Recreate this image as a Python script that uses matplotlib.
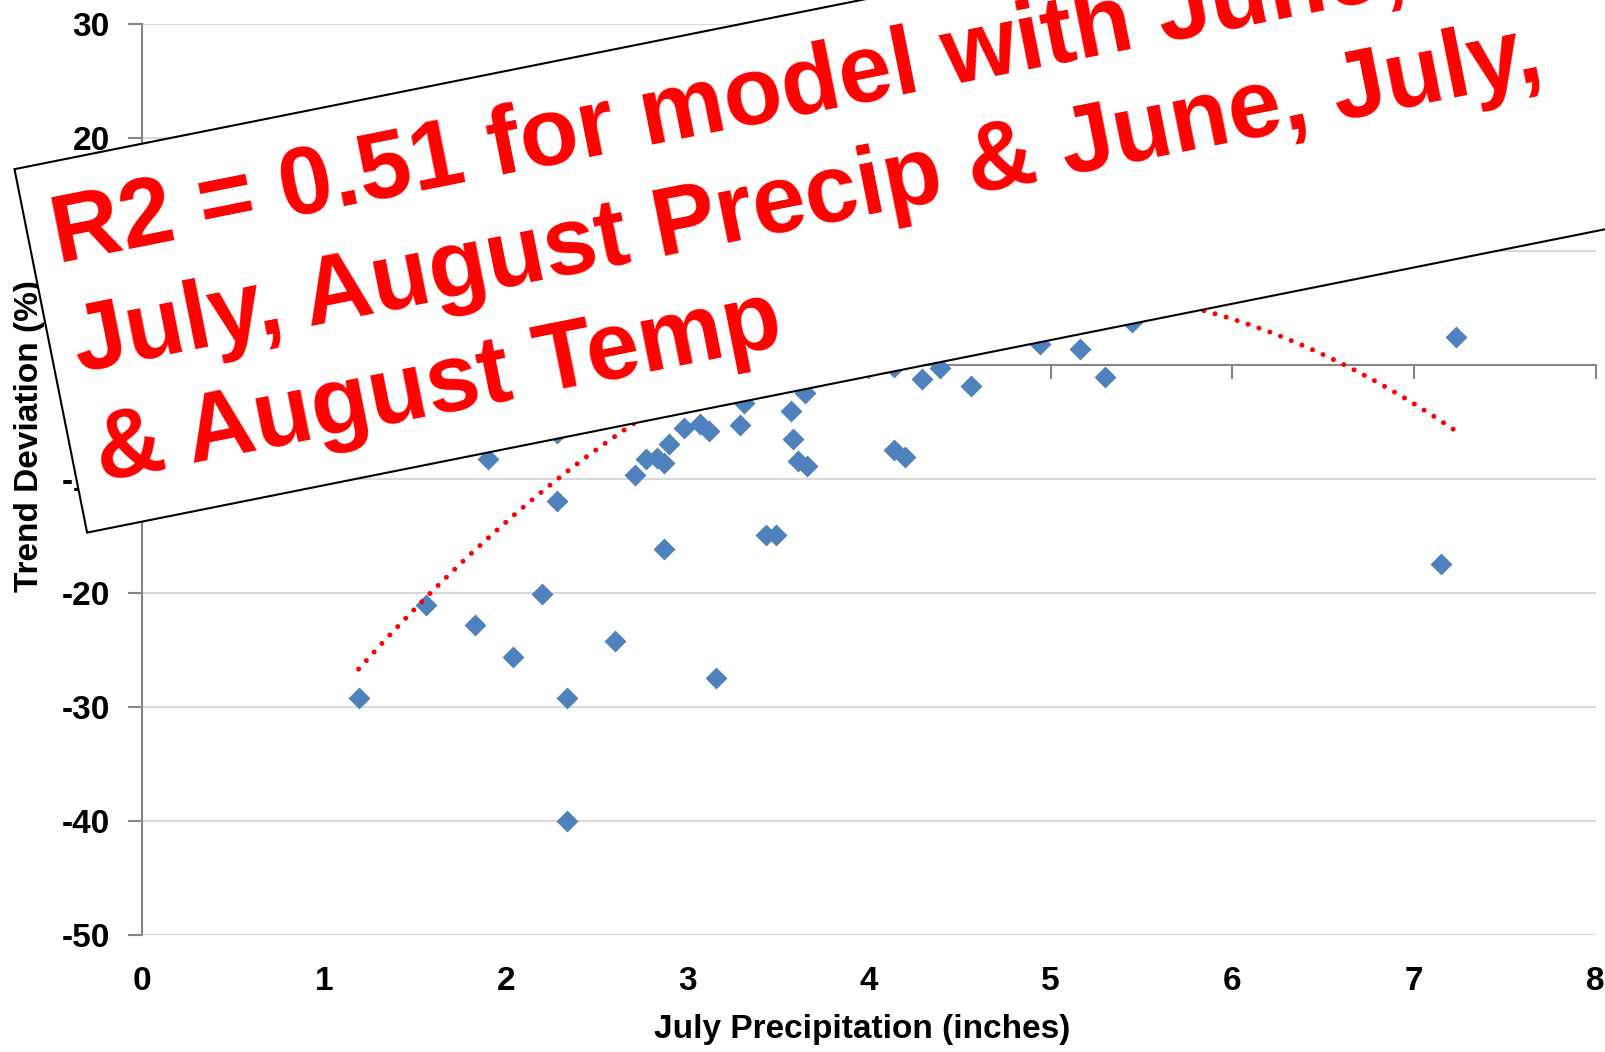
import numpy as np
import matplotlib
matplotlib.use("Agg")
import matplotlib.pyplot as plt
from matplotlib.patches import Rectangle
from matplotlib.transforms import IdentityTransform

plt.rcParams['font.family'] = ['Liberation Sans', 'DejaVu Sans']
plt.rcParams['font.weight'] = 'bold'
plt.rcParams['axes.unicode_minus'] = False

# July precipitation (inches) vs trend deviation (%)
precip = [1.19, 1.56, 1.83, 1.90, 2.04, 2.20, 2.28, 2.28, 2.34, 2.34,
          2.60, 2.71, 2.77, 2.83, 2.87, 2.87, 2.90, 2.98, 3.07, 3.12,
          3.16, 3.29, 3.31, 3.43, 3.49, 3.57, 3.58, 3.61, 3.65, 3.66,
          4.14, 4.20, 4.14, 4.29, 4.39, 4.56, 4.94, 5.16, 5.30, 5.45,
          7.15, 7.23]
deviation = [-29.2, -21.0, -22.8, -8.2, -25.6, -20.1, -11.9, -5.9, -29.2, -40.0,
             -24.2, -9.6, -8.2, -8.1, -8.6, -16.1, -6.9, -5.5, -5.1, -5.8,
             -27.4, -5.2, -3.3, -14.9, -14.9, -4.0, -6.5, -8.4, -2.4, -8.8,
             -7.4, -8.0, -0.1, -1.2, -0.2, -1.8, 1.9, 1.4, -1.0, 3.8,
             -17.4, 2.5]

# polynomial trendline (order 2)
trend_coef = [-2.38, 23.50, -51.25]

note_lines = ["R2 = 0.51 for model with June,",
              "July, August Precip & June, July,",
              "& August Temp"]

xticks = [0, 1, 2, 3, 4, 5, 6, 7, 8]
yticks = [-50, -40, -30, -20, -10, 0, 10, 20, 30]

fig = plt.figure(figsize=(16.06, 10.52), dpi=100)
ax = fig.add_axes([0.08867, 0.11112, 0.90492, 0.86645])

ax.scatter(precip, deviation, marker='D', s=125, color='#4F81BD', linewidths=0, zorder=3)

xs = np.linspace(min(precip), max(precip), 200)
ax.plot(xs, np.polyval(trend_coef, xs), color='#FF0000', lw=3.6,
        linestyle=(0, (0.01, 2.3)), dash_capstyle='round', zorder=4)

ax.set_xlim(0, 8)
ax.set_ylim(-50, 30)
ax.set_yticks(yticks)
ax.set_xticks(xticks)

gray = '#868686'
ax.yaxis.grid(True, color='#D9D9D9', lw=1.5)
ax.set_axisbelow(True)
for s in ['top', 'right']:
    ax.spines[s].set_visible(False)
ax.spines['left'].set_color(gray)
ax.spines['left'].set_linewidth(1.5)
ax.spines['bottom'].set_position(('data', 0))
ax.spines['bottom'].set_color(gray)
ax.spines['bottom'].set_linewidth(1.5)

ax.tick_params(axis='y', length=10, width=1.5, color=gray, pad=13.5, labelsize=24)
ax.tick_params(axis='x', length=10, width=1.5, color=gray, labelbottom=False)

sec = ax.secondary_xaxis('bottom')
sec.set_xticks(xticks)
sec.tick_params(length=0, pad=22, labelsize=24)
sec.spines['bottom'].set_visible(False)

ax.set_ylabel('Trend Deviation (%)', fontsize=24, fontweight='bold')
ax.yaxis.set_label_coords(-0.067, 0.547)
ax.set_xlabel('July Precipitation (inches)', fontsize=24, fontweight='bold', va='top')
ax.xaxis.set_label_coords(0.495, -0.087)

# rotated note box, in pixel coordinates
ang = 11.3
th = np.deg2rad(ang)
ll = np.array([87.1, 519.4])
box_h = 370.6
box = Rectangle(ll, 1800, box_h, angle=ang, transform=IdentityTransform(),
                facecolor='white', edgecolor='black', lw=1.5, zorder=5)
fig.add_artist(box)

u = np.array([np.cos(th), np.sin(th)])
v = np.array([np.sin(th), -np.cos(th)])
tl = ll + box_h * np.array([-np.sin(th), np.cos(th)])
for i, line in enumerate(note_lines):
    p = tl + 24 * u + (101 + 111 * i) * v
    fig.text(p[0], p[1], line, transform=IdentityTransform(), rotation=ang,
             rotation_mode='anchor', ha='left', va='baseline', color='#FF0000',
             fontsize=69, fontweight='bold', zorder=6)

fig.savefig('out.png', dpi=100)
